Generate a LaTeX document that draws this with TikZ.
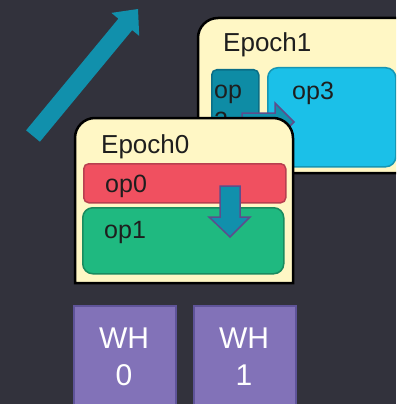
\documentclass[tikz,border=0pt]{standalone}
\usepackage{fontspec}
\setmainfont{Liberation Sans}
\definecolor{bgdark}{RGB}{50,50,60}
\definecolor{epochfill}{RGB}{255,247,197}
\definecolor{optwofill}{RGB}{14,140,165}
\definecolor{optwoline}{RGB}{10,110,135}
\definecolor{opthreefill}{RGB}{27,192,232}
\definecolor{opthreeline}{RGB}{22,150,180}
\definecolor{opzerofill}{RGB}{240,80,96}
\definecolor{opzeroline}{RGB}{184,64,80}
\definecolor{oponefill}{RGB}{31,185,128}
\definecolor{oponeline}{RGB}{26,139,95}
\definecolor{flowfill}{RGB}{17,144,172}
\definecolor{flowline}{RGB}{92,78,140}
\definecolor{whfill}{RGB}{130,114,184}
\definecolor{whline}{RGB}{95,84,153}
\definecolor{ink}{RGB}{30,30,30}
\begin{document}
\begin{tikzpicture}[x=1pt,y=-1pt,
  epoch/.style={draw=black,line width=2.5pt,fill=epochfill},
  opbox/.style={draw,line width=1.5pt,anchor=north west,inner sep=0pt},
  lbl/.style={text=ink,inner sep=0pt,anchor=base west,font=\fontsize{25}{31}\selectfont,align=left},
  epochlbl/.style={lbl,font=\fontsize{26}{31}\selectfont},
  whbox/.style={draw=whline,fill=whfill,line width=2pt,anchor=north west,
    minimum width=102pt,minimum height=110pt,inner sep=0pt},
  whlbl/.style={text=white,inner sep=0pt,anchor=base,font=\fontsize{30}{37}\selectfont,align=center},
  blockarrow/.style={fill=flowfill,draw=flowline,line width=1.5pt,line join=miter}]
\useasboundingbox (0,0) rectangle (396,404);
\clip (0,0) rectangle (396,404);
\fill[bgdark] (0,0) rectangle (396,404);

% diagonal progress arrow
\fill[flowfill] (26.1,130.3) -- (118.4,18.7) -- (111.4,12.9) -- (138,9)
  -- (139.2,35.9) -- (132.2,30.1) -- (39.9,141.7) -- cycle;

% Epoch 1
\draw[epoch,rounded corners=20pt] (198,18) rectangle (440,173);
\coordinate (epochone) at (198,18);
\node[epochlbl] (epochonetxt) at (223,52) {Epoch1};
\node[opbox,draw=optwoline,fill=optwofill,rounded corners=5pt,
  minimum width=47pt,minimum height=97pt] (optwo) at (211,69) {};
\node[lbl] (optwotxt) at (214,129) {op\\2};
\node[opbox,draw=opthreeline,fill=opthreefill,rounded corners=10pt,
  minimum width=128pt,minimum height=99pt] (opthree) at (267,67) {};
\node[lbl] (opthreetxt) at (292,99) {op3};
\draw[blockarrow] (242,113) -- (275,113) -- (275,103) -- (294,122)
  -- (275,141) -- (275,131) -- (242,131) -- cycle;

% Epoch 0
\draw[epoch] (75,283) [rounded corners=20pt] -- (75,118) -- (293,118)
  [sharp corners] -- (293,283) -- cycle;
\coordinate (epochzero) at (75,118);
\node[epochlbl] (epochzerotxt) at (101,153) {Epoch0};
\node[opbox,draw=opzeroline,fill=opzerofill,rounded corners=5pt,
  minimum width=202pt,minimum height=39pt] (opzero) at (83,163) {};
\node[lbl] (opzerotxt) at (105,192) {op0};
\node[opbox,draw=oponeline,fill=oponefill,rounded corners=10pt,
  minimum width=201pt,minimum height=66pt] (opone) at (82,207) {};
\node[lbl] (oponetxt) at (104,238) {op1};
\draw[blockarrow] (220,186) -- (240,186) -- (240,217) -- (250,217)
  -- (230,237) -- (209,217) -- (220,217) -- cycle;

% workers
\node[whbox] (whzero) at (73,305) {};
\node[whlbl] (whzerotxt) at (124,385) {WH\\0};
\node[whbox] (whone) at (193,305) {};
\node[whlbl] (whonetxt) at (244,385) {WH\\1};
\end{tikzpicture}
\end{document}
